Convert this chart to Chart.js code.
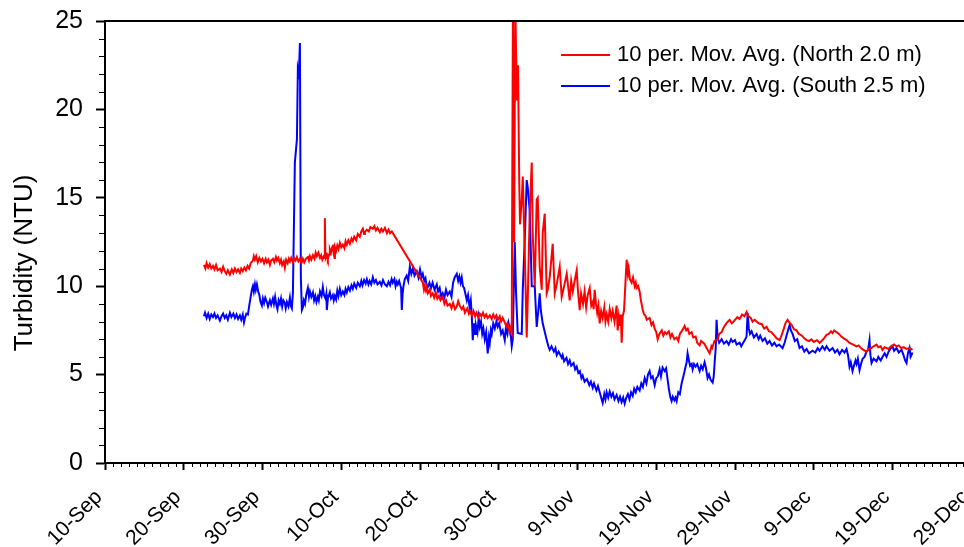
<!DOCTYPE html>
<html>
<head>
<meta charset="utf-8">
<script src="https://cdn.jsdelivr.net/npm/chart.js@4.4.1/dist/chart.umd.min.js"></script>
<style>
  html, body { margin: 0; padding: 0; background: #fff; overflow: hidden; }
  canvas { display: block; }
</style>
</head>
<body>
<canvas id="chart" width="1000" height="547"></canvas>
<script>
// ─── Data (x = days after 10-Sep, y = turbidity NTU) ─────────────────────────
const xTickLabels = ['10-Sep','20-Sep','30-Sep','10-Oct','20-Oct','30-Oct',
                     '9-Nov','19-Nov','29-Nov','9-Dec','19-Dec','29-Dec'];
const yTitle = 'Turbidity (NTU)';
const seriesLabels = ['10 per. Mov. Avg. (North 2.0 m)', '10 per. Mov. Avg. (South 2.5 m)'];

const northPoints = [
  [12.56,11.2],[12.75,11.0],[12.9,11.3],[13.1,11.05],[13.3,11.25],[13.5,11.0],[13.71,11.15],[13.9,10.95],
  [14.1,11.2],[14.3,10.9],[14.59,11.0],[14.8,10.8],[15.0,11.1],[15.2,10.85],[15.4,10.7],[15.6,10.9],
  [15.86,10.65],[16.1,10.95],[16.3,10.75],[16.5,11.0],[16.7,10.8],[16.9,10.95],[17.13,10.75],[17.3,11.0],
  [17.5,10.85],[17.7,11.05],[17.9,10.9],[18.1,11.15],[18.3,11.0],[18.5,11.3],[18.78,11.45],[18.9,11.7],
  [19.04,11.5],[19.2,11.7],[19.4,11.35],[19.6,11.6],[19.8,11.4],[20.0,11.55],[20.2,11.3],[20.4,11.55],
  [20.56,11.35],[20.75,11.5],[20.94,11.2],[21.1,11.45],[21.32,11.55],[21.5,11.35],[21.7,11.65],[21.83,11.45],
  [22.0,11.6],[22.2,11.3],[22.35,11.5],[22.5,11.2],[22.7,11.4],[22.84,11.05],[23.0,11.5],[23.2,11.3],
  [23.35,11.55],[23.48,11.4],[23.65,11.6],[23.86,11.35],[24.0,11.6],[24.2,11.45],[24.37,11.65],[24.55,11.4],
  [24.75,11.55],[24.95,11.3],[25.13,11.55],[25.3,11.35],[25.5,11.55],[25.76,11.65],[25.9,11.45],[26.02,11.7],
  [26.2,11.5],[26.4,11.75],[26.6,11.55],[26.75,11.9],[26.9,11.7],[27.1,11.9],[27.3,11.6],[27.45,11.75],
  [27.6,11.5],[27.8,11.7],[27.88,11.6],[27.92,13.85],[27.98,11.9],[28.05,11.6],[28.2,11.75],[28.3,11.55],
  [28.45,11.8],[28.55,12.1],[28.7,11.9],[28.85,12.2],[28.93,12.35],[29.05,11.8],[29.15,11.6],[29.2,12.2],
  [29.35,12.0],[29.5,12.3],[29.65,12.1],[29.82,12.45],[30.0,12.2],[30.2,12.35],[30.4,12.15],[30.55,12.55],
  [30.71,12.35],[30.9,12.6],[31.1,12.4],[31.3,12.7],[31.47,12.55],[31.65,12.8],[31.9,12.6],[32.1,12.95],
  [32.36,12.8],[32.55,13.1],[32.74,13.25],[32.9,12.95],[33.0,13.05],[33.25,13.2],[33.5,13.1],[33.7,13.35],
  [34.01,13.25],[34.2,13.4],[34.4,13.15],[34.6,13.3],[34.9,13.05],[35.1,13.25],[35.3,13.1],[35.55,13.3],
  [35.8,13.0],[36.0,13.2],[36.2,13.0],[36.42,13.1],
  [40.36,10.2],[40.5,9.8],[40.6,10.0],[40.75,9.75],[40.86,9.95],[41.0,9.6],[41.24,9.8],[41.4,9.45],
  [41.62,9.6],[41.8,9.35],[42.0,9.65],[42.2,9.3],[42.4,9.45],[42.6,9.2],[42.89,9.4],[43.1,9.0],
  [43.3,9.2],[43.5,8.9],[43.78,9.0],[44.0,8.75],[44.2,9.05],[44.45,8.7],[44.67,8.85],[44.85,9.15],
  [45.05,8.9],[45.3,8.7],[45.5,8.85],[45.7,8.5],[46.0,8.75],[46.2,8.45],[46.32,8.6],[46.6,8.35],
  [46.8,8.6],[47.0,8.3],[47.2,8.5],[47.4,8.25],[47.59,8.45],[47.8,8.3],[48.0,8.5],[48.2,8.25],
  [48.4,8.4],[48.6,8.2],[48.86,8.35],[49.1,8.15],[49.3,8.4],[49.5,8.2],[49.7,8.35],[49.9,8.1],
  [50.13,8.3],[50.3,8.0],[50.5,8.2],[50.76,7.95],[50.95,7.75],[51.1,7.9],[51.3,7.55],[51.4,7.4],
  [51.55,7.7],[51.65,7.5],
  [51.8,26],[51.95,12.5],[52.1,26],[52.3,20.5],[52.45,22.5],[52.6,16],[52.7,13.5],
  [52.92,14.9],[53.05,16.2],[53.3,12.0],[53.55,7.1],[53.68,9.2],[53.93,14.1],[54.19,17.0],[54.31,13.0],
  [54.57,10.0],[54.82,14.9],[54.95,15.0],[55.2,11.1],[55.46,9.8],[55.58,13.0],[55.84,14.1],[56.09,9.6],
  [56.22,9.8],[56.47,10.5],[56.85,12.4],[57.11,9.6],[57.4,10.2],[57.74,11.1],[57.99,9.4],[58.3,10.0],
  [58.63,10.7],[59.01,9.2],[59.2,10.3],[59.4,9.7],[59.6,10.2],[59.9,10.9],[60.05,9.8],[60.28,8.65],
  [60.45,9.6],[60.7,9.0],[60.9,9.7],[61.1,8.8],[61.3,9.5],[61.55,9.9],[61.75,8.9],[61.93,9.1],
  [62.05,8.7],[62.18,9.8],[62.35,9.0],[62.5,8.5],[62.65,8.9],[62.82,7.9],[63.0,8.6],[63.2,8.2],
  [63.4,8.8],[63.55,8.0],[63.71,8.4],[63.9,8.0],[64.09,8.7],[64.3,8.2],[64.47,8.6],[64.7,8.0],
  [64.85,8.5],[64.97,8.9],[65.1,7.5],[65.25,8.3],[65.4,7.8],[65.5,8.4],[65.61,6.8],[65.74,8.3],
  [65.9,8.6],[65.99,9.3],[66.1,10.3],[66.24,11.5],[66.4,10.7],[66.5,11.0],[66.65,10.4],[66.88,10.2],
  [67.05,10.5],[67.26,10.0],[67.4,10.2],[67.51,9.9],[67.7,10.0],[67.89,9.7],[68.05,9.2],[68.27,8.7],
  [68.45,8.4],[68.6,8.35],[68.8,8.1],[69.16,8.2],[69.4,7.8],[69.6,7.95],[69.8,7.6],[70.0,7.4],
  [70.18,7.0],[70.4,7.3],[70.7,7.5],[70.9,7.2],[71.1,7.4],[71.32,7.3],[71.6,7.45],[71.8,7.1],
  [72.0,7.3],[72.3,7.0],[72.59,7.1],[72.8,6.9],[73.0,7.3],[73.3,7.5],[73.6,7.75],[73.8,7.5],
  [74.0,7.6],[74.2,7.3],[74.49,7.4],[74.7,7.1],[75.0,7.15],[75.2,6.8],[75.51,6.65],[75.7,6.9],
  [76.1,6.75],[76.4,6.5],[76.78,6.2],[77.0,6.6],[77.1,6.5],[77.4,6.9],[77.79,7.0],[78.0,7.3],
  [78.3,7.4],[78.6,7.7],[78.9,7.9],[79.31,8.1],[79.6,7.9],[80.0,8.1],[80.3,8.25],[80.58,8.15],
  [80.9,8.4],[81.2,8.3],[81.47,8.55],[81.7,8.3],[82.0,8.2],[82.23,8.0],[82.5,8.1],[83.0,7.9],
  [83.4,7.85],[83.7,7.6],[84.01,7.7],[84.3,7.45],[84.6,7.4],[85.0,7.2],[85.3,7.05],[85.66,6.95],
  [85.9,7.2],[86.2,7.6],[86.4,7.9],[86.68,8.1],[86.9,7.95],[87.2,7.8],[87.5,7.55],[87.82,7.5],
  [88.1,7.3],[88.5,7.2],[88.8,7.05],[89.09,6.95],[89.4,6.9],[89.7,7.0],[90.0,6.85],[90.4,6.95],
  [90.74,6.8],[91.0,6.9],[91.3,7.05],[91.62,7.25],[91.9,7.3],[92.2,7.45],[92.39,7.35],[92.6,7.5],
  [92.89,7.4],[93.2,7.3],[93.5,7.15],[93.8,7.05],[94.16,6.95],[94.5,6.8],[95.0,6.7],[95.43,6.6],
  [95.7,6.65],[96.0,6.5],[96.3,6.4],[96.7,6.3],[97.0,6.45],[97.3,6.5],[97.6,6.6],[97.97,6.7],
  [98.2,6.55],[98.5,6.6],[98.73,6.4],[99.0,6.55],[99.5,6.45],[99.8,6.6],[100.2,6.7],[100.51,6.6],
  [100.8,6.65],[101.1,6.5],[101.4,6.55],[101.78,6.45],[102.2,6.5],[102.54,6.4]
];

const southPoints = [
  [12.56,8.3],[12.7,8.5],[12.9,8.2],[13.1,8.45],[13.3,8.15],[13.5,8.4],[13.71,8.25],[13.9,8.45],
  [14.1,8.2],[14.3,8.35],[14.59,8.05],[14.8,8.3],[15.0,8.45],[15.2,8.2],[15.4,8.35],[15.6,8.1],
  [15.86,8.5],[16.05,8.25],[16.3,8.45],[16.5,8.2],[16.7,8.4],[16.9,8.15],[17.13,8.35],[17.3,8.1],
  [17.5,8.4],[17.65,7.95],[17.77,8.2],[17.95,8.45],[18.15,8.4],[18.35,9.0],[18.5,9.4],[18.65,9.8],
  [18.78,10.0],[18.9,9.7],[19.04,10.1],[19.15,9.8],[19.29,10.1],[19.45,9.7],[19.6,9.5],[19.75,9.1],
  [19.92,8.9],[20.05,9.3],[20.2,9.05],[20.35,9.35],[20.56,9.1],[20.7,8.85],[20.94,9.2],[21.1,8.95],
  [21.32,9.3],[21.45,9.0],[21.6,9.4],[21.75,8.95],[21.9,8.7],[22.05,9.2],[22.21,9.0],[22.35,9.3],
  [22.5,8.85],[22.65,9.2],[22.84,9.05],[22.95,8.75],[23.1,9.1],[23.3,8.85],[23.48,9.35],[23.6,8.9],
  [23.73,8.75],[23.86,9.6],[24.11,17.0],[24.37,18.3],[24.49,22.3],[24.62,22.0],[24.75,23.75],[24.87,10.5],
  [25.0,8.65],[25.13,8.8],[25.25,9.2],[25.4,9.0],[25.55,9.5],[25.76,9.9],[25.9,9.4],[26.02,9.7],
  [26.2,9.4],[26.4,9.65],[26.55,9.2],[26.7,9.45],[26.85,9.1],[27.03,9.4],[27.15,9.2],[27.3,9.7],
  [27.5,9.45],[27.66,9.95],[27.8,9.5],[28.0,9.3],[28.1,9.55],[28.17,8.65],[28.3,9.3],[28.55,9.65],
  [28.7,9.3],[28.93,9.5],[29.05,9.2],[29.19,9.45],[29.35,9.25],[29.5,9.75],[29.65,9.45],[29.82,9.85],
  [30.0,9.5],[30.2,9.7],[30.4,9.5],[30.55,9.85],[30.71,9.65],[30.9,9.95],[31.1,9.75],[31.3,10.05],
  [31.47,9.85],[31.65,10.15],[31.9,9.9],[32.1,10.2],[32.36,10.0],[32.55,10.3],[32.7,10.05],[32.9,10.35],
  [33.1,10.15],[33.25,10.4],[33.45,10.1],[33.6,10.3],[33.8,10.1],[34.01,10.5],[34.2,10.2],[34.4,10.35],
  [34.6,10.1],[34.9,10.25],[35.1,10.05],[35.3,10.35],[35.55,10.1],[35.79,10.0],[36.0,10.25],[36.2,10.05],
  [36.4,10.4],[36.55,10.2],[36.75,10.4],[36.9,10.0],[37.05,10.25],[37.18,10.1],[37.35,10.3],[37.5,10.05],
  [37.6,9.9],[37.69,8.65],[37.8,9.6],[37.9,10.0],[38.07,10.4],[38.3,10.6],[38.5,10.3],[38.71,11.1],
  [38.9,10.7],[39.1,11.0],[39.3,10.6],[39.59,10.85],[39.8,10.5],[40.0,10.95],[40.2,10.5],[40.36,10.7],
  [40.55,10.3],[40.7,10.45],[40.85,10.0],[40.99,9.95],[41.2,10.2],[41.4,9.9],[41.6,10.2],[41.85,9.8],
  [42.13,10.1],[42.3,9.7],[42.5,9.9],[42.7,9.4],[42.89,9.6],[43.1,9.35],[43.3,9.8],[43.5,9.5],
  [43.78,9.7],[44.0,9.4],[44.2,10.2],[44.4,10.5],[44.67,10.7],[44.85,10.3],[45.0,10.55],[45.15,10.2],
  [45.3,10.5],[45.45,10.0],[45.6,9.9],[45.8,9.5],[45.94,9.2],[46.1,9.5],[46.3,8.8],[46.45,9.2],
  [46.57,8.4],[46.7,6.95],[46.85,7.9],[47.0,7.3],[47.1,7.8],[47.3,7.4],[47.45,8.2],[47.59,7.7],
  [47.75,8.0],[47.9,7.3],[48.05,7.6],[48.22,7.0],[48.4,7.4],[48.6,6.2],[48.75,7.1],[48.86,6.8],
  [49.0,7.5],[49.11,7.3],[49.3,7.9],[49.5,7.6],[49.7,8.0],[49.87,7.7],[50.05,7.9],[50.3,7.3],
  [50.5,7.5],[50.76,6.95],[50.9,7.6],[51.1,7.3],[51.25,7.9],[51.4,7.6],[51.55,7.1],[51.65,6.6],
  [51.78,7.0],[52.03,12.5],[52.2,9.6],[52.41,7.35],[52.92,7.3],[53.05,9.8],[53.3,12.6],[53.55,16.0],
  [53.68,15.6],[53.93,14.3],[54.19,10.0],[54.57,10.0],[54.82,7.7],[55.0,8.5],[55.2,9.6],[55.35,8.6],
  [55.58,7.9],[55.8,7.5],[56.09,6.95],[56.3,6.6],[56.47,6.4],[56.7,6.6],[57.0,6.3],[57.2,6.5],
  [57.36,6.1],[57.6,6.3],[58.0,5.95],[58.12,6.1],[58.3,5.75],[58.6,5.95],[58.8,5.6],[59.01,5.8],
  [59.2,5.5],[59.5,5.65],[59.7,5.3],[59.9,5.45],[60.1,5.1],[60.3,5.2],[60.5,4.8],[60.66,4.95],
  [60.9,4.6],[61.2,4.75],[61.5,4.4],[61.7,4.6],[61.93,4.25],[62.1,4.5],[62.4,4.1],[62.6,4.35],
  [62.82,4.0],[63.0,3.7],[63.2,3.4],[63.4,3.9],[63.55,3.6],[63.7,4.0],[63.9,3.7],[64.09,4.05],
  [64.3,3.75],[64.5,3.95],[64.7,3.6],[64.97,3.85],[65.2,3.5],[65.4,3.75],[65.6,3.45],[65.8,3.7],
  [65.99,3.35],[66.2,3.7],[66.4,3.9],[66.6,3.6],[66.8,4.0],[67.01,3.8],[67.2,4.2],[67.4,4.0],
  [67.6,4.3],[67.89,4.1],[68.1,4.5],[68.3,4.3],[68.53,4.8],[68.75,4.5],[68.95,5.0],[69.16,5.2],
  [69.35,4.8],[69.55,4.9],[69.8,4.4],[70.0,4.8],[70.2,4.9],[70.43,5.3],[70.6,4.9],[70.8,5.4],
  [71.07,5.2],[71.25,5.35],[71.45,4.7],[71.6,4.2],[71.8,3.7],[71.95,3.5],[72.1,3.75],[72.3,3.55],
  [72.45,3.7],[72.59,3.5],[72.8,4.0],[73.0,3.9],[73.22,4.5],[73.5,5.0],[73.7,5.4],[73.86,5.7],
  [73.98,6.2],[74.15,5.8],[74.3,5.5],[74.5,5.6],[74.62,5.3],[74.8,5.6],[75.0,5.45],[75.2,5.6],
  [75.51,5.2],[75.7,5.5],[75.9,5.3],[76.14,5.7],[76.3,5.4],[76.52,4.8],[76.7,5.0],[76.9,4.7],
  [77.16,4.55],[77.3,4.9],[77.41,5.65],[77.55,6.5],[77.66,8.1],[77.79,7.1],[78.0,6.8],[78.3,7.0],
  [78.6,6.75],[78.93,6.9],[79.2,6.7],[79.5,7.0],[79.7,6.85],[80.0,6.95],[80.2,6.7],[80.58,6.8],
  [80.8,6.6],[81.1,6.85],[81.3,7.0],[81.47,7.15],[81.6,8.5],[81.75,7.6],[81.9,7.3],[82.11,7.45],
  [82.4,7.1],[82.74,7.3],[83.0,7.0],[83.2,7.2],[83.5,6.9],[83.8,7.05],[84.1,6.75],[84.39,6.9],
  [84.7,6.65],[85.0,6.8],[85.28,6.6],[85.6,6.7],[86.04,6.5],[86.3,6.8],[86.6,7.3],[86.93,7.8],
  [87.1,7.5],[87.31,7.3],[87.6,6.9],[87.9,7.0],[88.2,6.5],[88.5,6.6],[88.8,6.3],[89.09,6.45],
  [89.4,6.2],[89.85,6.35],[90.2,6.25],[90.5,6.5],[90.74,6.35],[91.1,6.6],[91.4,6.4],[91.62,6.6],
  [92.0,6.35],[92.39,6.5],[92.7,6.25],[93.0,6.4],[93.27,6.15],[93.6,6.4],[93.9,6.25],[94.16,6.45],
  [94.35,6.1],[94.54,5.45],[94.7,5.7],[94.92,5.2],[95.1,5.5],[95.3,5.8],[95.43,5.6],[95.6,5.9],
  [95.81,5.25],[96.0,5.6],[96.2,5.9],[96.45,6.0],[96.7,6.3],[96.9,6.4],[97.08,6.95],[97.2,6.1],
  [97.34,5.65],[97.6,5.9],[97.97,5.75],[98.2,6.0],[98.5,5.8],[98.73,6.0],[99.0,6.2],[99.24,6.0],
  [99.5,6.3],[99.8,6.5],[100.0,6.6],[100.2,6.35],[100.51,6.5],[100.8,6.25],[101.14,6.4],[101.4,6.1],
  [101.6,5.8],[101.78,5.65],[101.95,6.2],[102.16,6.5],[102.3,6.0],[102.41,6.1],[102.54,6.25]
];

const FONT = "'Liberation Sans', Arial, sans-serif";
Chart.defaults.font.family = FONT;
Chart.defaults.color = '#000';

// ─── Minor ticks, top frame, axis title, legend ──────────────────────────────
const decorPlugin = {
  id: 'decor',
  afterDraw(chart) {
    const { ctx, chartArea: a, scales: { x, y } } = chart;
    const seg = (x1, y1, x2, y2) => { ctx.beginPath(); ctx.moveTo(x1, y1); ctx.lineTo(x2, y2); ctx.stroke(); };
    ctx.save();
    ctx.strokeStyle = '#000';
    ctx.lineWidth = 1;
    for (let d = x.min; d <= x.max; d++) {
      if (d % 10 === 0) continue;
      const px = Math.round(x.getPixelForValue(d)) + 0.5;
      seg(px, a.bottom, px, a.bottom + 4);
    }
    for (let v = y.min; v <= y.max; v++) {
      if (v % 5 === 0) continue;
      const py = Math.round(y.getPixelForValue(v)) + 0.5;
      seg(a.left - 6, py, a.left, py);
    }
    ctx.lineWidth = 2;
    seg(a.left, a.top, a.right, a.top);

    // y-axis title
    ctx.save();
    ctx.translate(25, 263);
    ctx.rotate(-Math.PI / 2);
    ctx.font = `26px ${FONT}`;
    ctx.fillStyle = '#000';
    ctx.textAlign = 'center';
    ctx.textBaseline = 'middle';
    ctx.fillText(yTitle, 0, 0);
    ctx.restore();

    // legend
    ctx.font = `22px ${FONT}`;
    ctx.textAlign = 'left';
    ctx.textBaseline = 'middle';
    chart.data.datasets.forEach((ds, i) => {
      const ly = 55 + i * 31;
      ctx.strokeStyle = ds.borderColor;
      ctx.lineWidth = 2;
      seg(561, ly, 610, ly);
      ctx.fillStyle = '#000';
      ctx.fillText(ds.label, 617, ly);
    });
    ctx.restore();
  }
};

const toXY = pts => pts.map(p => ({ x: p[0], y: p[1] }));

new Chart(document.getElementById('chart'), {
  type: 'line',
  data: {
    datasets: [
      { label: seriesLabels[0], data: toXY(northPoints), borderColor: '#ff0000', borderWidth: 2, pointRadius: 0, tension: 0 },
      { label: seriesLabels[1], data: toXY(southPoints), borderColor: '#0000ff', borderWidth: 2, pointRadius: 0, tension: 0 },
    ],
  },
  options: {
    responsive: false,
    animation: false,
    devicePixelRatio: 1,
    layout: { padding: { top: 21, right: 13, left: 0, bottom: 0 } },
    plugins: { legend: { display: false }, tooltip: { enabled: false } },
    scales: {
      x: {
        type: 'linear', min: 0, max: 112,
        afterFit: s => { s.height = 84; s.paddingLeft = 0; s.paddingRight = 0; },
        border: { display: true, color: '#000', width: 2 },
        grid: { drawOnChartArea: false, drawTicks: true, tickLength: 7, tickColor: '#000', tickWidth: 2 },
        ticks: {
          stepSize: 10, includeBounds: false, autoSkip: false,
          minRotation: 45, maxRotation: 45, padding: 15, labelOffset: -6,
          font: { size: 21 }, color: '#000',
          callback: v => xTickLabels[v / 10] ?? '',
        },
      },
      y: {
        min: 0, max: 25,
        afterFit: s => { s.width = 105; s.paddingTop = 0; s.paddingBottom = 0; },
        border: { display: true, color: '#000', width: 2 },
        grid: { drawOnChartArea: false, drawTicks: true, tickLength: 9, tickColor: '#000', tickWidth: 2 },
        ticks: { stepSize: 5, includeBounds: false, padding: 13, font: { size: 25 }, color: '#000' },
      },
    },
  },
  plugins: [decorPlugin],
});
</script>
</body>
</html>
